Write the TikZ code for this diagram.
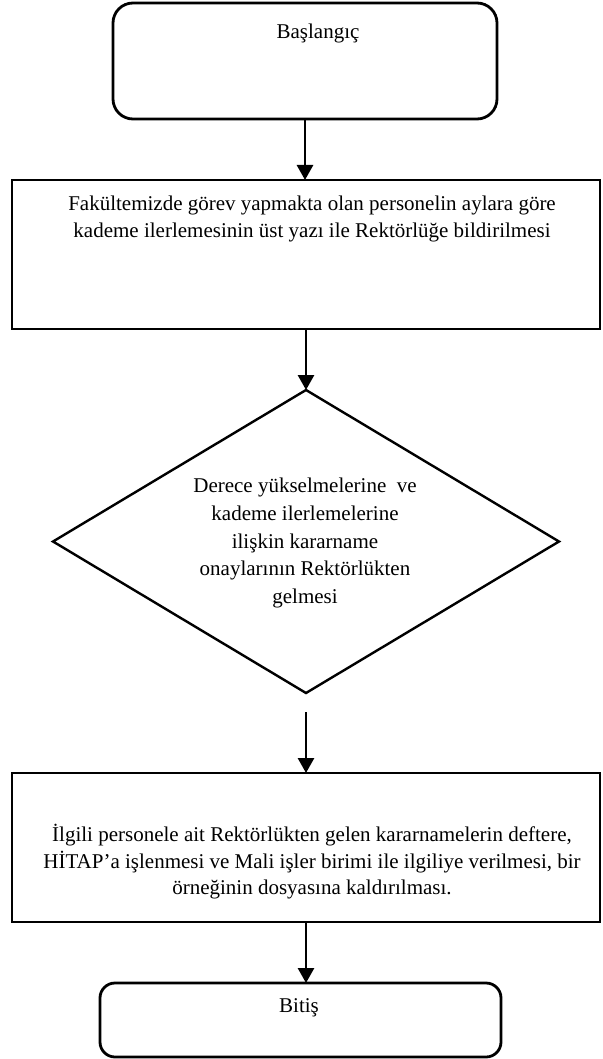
\documentclass[tikz,border=0pt]{standalone}
\usepackage{fontspec}
\setmainfont{Liberation Serif}
\usetikzlibrary{shapes.geometric,arrows.meta}
\begin{document}
\begin{tikzpicture}[x=1pt,y=-1pt,
  boxline/.style={draw=black,line width=2.8pt,inner sep=0pt,outer sep=0pt},
  rbox/.style={boxline,rounded corners=20pt},
  pbox/.style={boxline,rectangle},
  dbox/.style={draw=black,line width=2.4pt,shape=diamond,inner sep=0pt,outer sep=0pt},
  txt/.style={align=center,font=\fontsize{21}{27.8}\selectfont,inner sep=0pt},
  conn/.style={line width=2.8pt,-{Triangle[length=15pt,width=16pt]}}]
\useasboundingbox (0,0) rectangle (602,1059);
% shapes
\node[rbox,minimum width=384pt,minimum height=116pt] (start) at (305,61) {};
\node[pbox,minimum width=588pt,minimum height=149pt] (b2) at (306,254.5) {};
\node[dbox,minimum width=506pt,minimum height=303pt] (d3) at (306,541.5) {};
\node[pbox,minimum width=588pt,minimum height=149pt] (b4) at (306,847.5) {};
\node[rbox,rounded corners=15pt,minimum width=401pt,minimum height=74pt] (end) at (300.5,1020) {};
% texts
\node[txt] (t1) at (318,33) {Başlangıç};
\node[txt] (t2) at (312,219) {Fakültemizde görev yapmakta olan personelin aylara göre\\kademe ilerlemesinin üst yazı ile Rektörlüğe bildirilmesi};
\node[txt] (t3) at (305,543) {Derece yükselmelerine\ \ ve\\kademe ilerlemelerine\\ilişkin kararname\\onaylarının Rektörlükten\\gelmesi};
\node[txt,font=\fontsize{21}{26.5}\selectfont] (t4) at (312,862) {İlgili personele ait Rektörlükten gelen kararnamelerin deftere,\\HİTAP’a işlenmesi ve Mali işler birimi ile ilgiliye verilmesi, bir\\örneğinin dosyasına kaldırılması.};
\node[txt] (t5) at (299,1008) {Bitiş};
% connectors
\coordinate (c3) at ([yshift=-19pt]d3.south);
\draw[conn] (start.south) -- (start.south |- b2.north);
\draw[conn] (b2.north |- b2.south) -- (b2.north |- d3.north);
\draw[conn] (c3) -- (c3 |- b4.north);
\draw[conn] (b4.south) -- (b4.south |- end.north);
\end{tikzpicture}
\end{document}
